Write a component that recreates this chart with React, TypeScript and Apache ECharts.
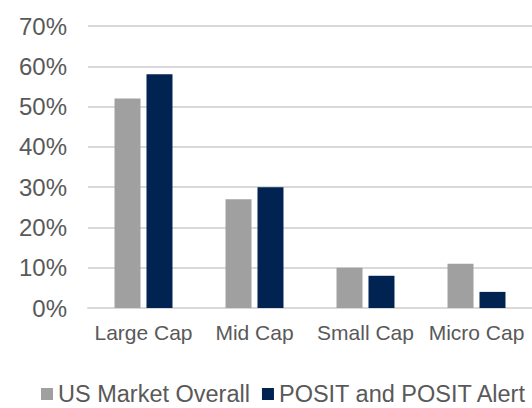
import React, { useEffect, useRef } from "react";
import * as echarts from "echarts";

const categories = ["Large Cap", "Mid Cap", "Small Cap", "Micro Cap"];
const seriesNames = ["US Market Overall", "POSIT and POSIT Alert"];
const usMarketOverall = [52, 27, 10, 11];
const positAndAlert = [58, 30, 8, 4];
const yTicks = { min: 0, max: 70, interval: 10 };

export default function App() {
  const ref = useRef<HTMLDivElement>(null);
  useEffect(() => {
    if (!ref.current) return;
    const chart = echarts.init(ref.current, null, { renderer: "svg" });
    const font = "'Liberation Sans', Arial, sans-serif";
    chart.setOption({
      animation: false,
      backgroundColor: "#ffffff",
      grid: { left: 88, top: 26, bottom: 100, width: 448, containLabel: false },
      legend: {
        left: 41,
        top: 382,
        padding: 0,
        width: 800,
        itemWidth: 12,
        itemHeight: 12,
        itemGap: 12,
        icon: "rect",
        textStyle: {
          fontFamily: font,
          fontSize: 23.5,
          color: "#595959",
        },
        data: seriesNames,
      },
      xAxis: {
        type: "category",
        data: categories,
        axisLine: { lineStyle: { color: "#d9d9d9", width: 2 } },
        axisTick: { show: false },
        axisLabel: {
          interval: 0,
          fontFamily: font,
          fontSize: 21,
          color: "#595959",
          margin: 14,
        },
      },
      yAxis: {
        type: "value",
        min: yTicks.min,
        max: yTicks.max,
        interval: yTicks.interval,
        axisLine: { show: false },
        axisTick: { show: false },
        splitLine: { lineStyle: { color: "#d9d9d9", width: 2 } },
        axisLabel: {
          fontFamily: font,
          fontSize: 24,
          color: "#595959",
          margin: 21,
          formatter: "{value}%",
        },
      },
      series: [
        {
          name: seriesNames[0],
          type: "bar",
          data: usMarketOverall,
          barWidth: 26,
          barGap: "23%",
          itemStyle: { color: "#a0a0a0" },
        },
        {
          name: seriesNames[1],
          type: "bar",
          data: positAndAlert,
          barWidth: 26,
          itemStyle: { color: "#002352" },
        },
      ],
    });
    return () => chart.dispose();
  }, []);
  return (
    <div
      ref={ref}
      style={{ position: "fixed", left: 0, top: 0, width: 532, height: 408 }}
    />
  );
}
